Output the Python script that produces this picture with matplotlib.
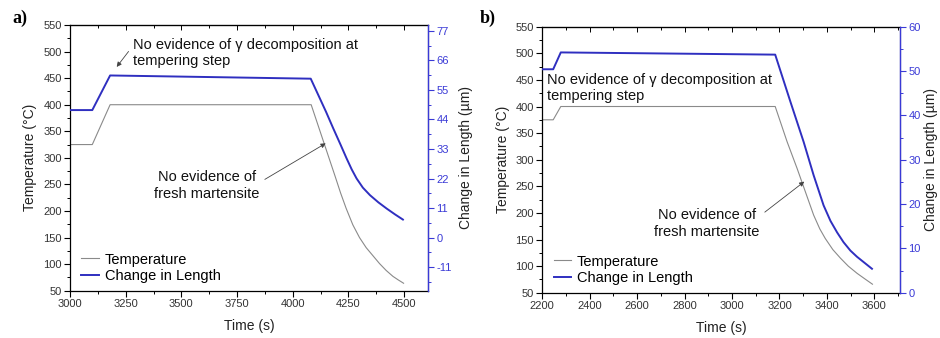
import numpy as np
import matplotlib.pyplot as plt
from matplotlib.ticker import MultipleLocator

plt.rcParams['font.family'] = ['Liberation Sans', 'DejaVu Sans']
plt.rcParams['axes.unicode_minus'] = False

# panel a) tempering at 400 C, start 325 C
time_a = [3000, 3100, 3180, 4083, 4150, 4190, 4215, 4240, 4270, 4300,
          4330, 4360, 4390, 4420, 4450, 4475, 4498]
temp_a = [325, 325, 400, 400, 316, 266, 234, 205, 174, 150,
          131, 116, 101, 88, 77, 70, 64]
ltime_a = [3000, 3100, 3180, 4081, 4115, 4150, 4182, 4215, 4242, 4265,
           4287, 4315, 4347, 4385, 4422, 4460, 4495]
length_a = [47.5, 47.5, 60.4, 59.2, 53.1, 46.8, 40.7, 34.6, 29.5, 25.4,
            22.0, 18.6, 15.8, 13.1, 10.8, 8.6, 6.7]

# panel b) tempering at 400 C, start 375 C
time_b = [2200, 2246, 2278, 3182, 3232, 3274, 3309, 3344, 3370, 3393,
          3425, 3457, 3490, 3527, 3560, 3592]
temp_b = [375, 375, 400, 400, 334, 284, 240, 196, 170, 152,
          131, 115, 100, 86.5, 76, 66]
ltime_b = [2200, 2246, 2278, 3182, 3246, 3302, 3344, 3386, 3415, 3443,
           3470, 3499, 3527, 3555, 3590]
length_b = [50.4, 50.4, 54.2, 53.7, 43.1, 34.0, 26.5, 19.7, 16.2, 13.6,
            11.4, 9.5, 8.1, 6.9, 5.4]

GRAY = '#8a8a8a'
BLUE = '#2f2fc0'
TBLUE = '#3a3ad6'
TXT = '#333333'

fig = plt.figure(figsize=(9.4, 3.38), dpi=100)


def draw_panel(rect, t, T, lt, L, xlim, xmaj, xmin, rlim, rmaj, rmin, lab_x, rlab_x):
    ax = fig.add_axes(rect)
    ax2 = ax.twinx()
    l1, = ax.plot(t, T, color=GRAY, lw=0.8, label='Temperature')
    l2, = ax2.plot(lt, L, color=BLUE, lw=1.4, label='Change in Length')
    ax.set_xlim(*xlim)
    ax.set_ylim(50, 550)
    ax2.set_ylim(*rlim)
    ax.xaxis.set_major_locator(MultipleLocator(xmaj))
    ax.xaxis.set_minor_locator(MultipleLocator(xmin))
    ax.yaxis.set_major_locator(MultipleLocator(50))
    ax.yaxis.set_minor_locator(MultipleLocator(25))
    ax2.yaxis.set_major_locator(MultipleLocator(rmaj))
    ax2.yaxis.set_minor_locator(MultipleLocator(rmin))
    ax.tick_params(which='major', direction='out', length=4, width=0.8,
                   labelsize=8, labelcolor=TXT, pad=2)
    ax.tick_params(which='minor', direction='out', length=2.2, width=0.7)
    ax2.tick_params(which='major', direction='out', length=4, width=0.8,
                    color=TBLUE, labelsize=8, labelcolor=TBLUE, pad=2)
    ax2.tick_params(which='minor', direction='out', length=2.2, width=0.7, color=TBLUE)
    for s in ['left', 'bottom', 'top']:
        ax2.spines[s].set_visible(False)
        ax.spines[s].set_linewidth(0.9)
    ax2.spines['right'].set_color(TBLUE)
    ax2.spines['right'].set_linewidth(1.0)
    top = ax.secondary_xaxis('top')
    top.xaxis.set_major_locator(MultipleLocator(xmaj))
    top.xaxis.set_minor_locator(MultipleLocator(xmin))
    top.tick_params(which='both', direction='in', labeltop=False, width=0.7)
    top.tick_params(which='major', length=3.5)
    top.tick_params(which='minor', length=2.2)
    ax.set_xlabel('Time (s)', fontsize=10, color='#222222')
    ax.xaxis.set_label_coords(0.5, -0.105)
    ax.set_ylabel('Temperature (°C)', fontsize=10, color='#222222')
    ax.yaxis.set_label_coords(lab_x, 0.5)
    ax2.set_ylabel('Change in Length (µm)', fontsize=10, color='#222222')
    ax2.yaxis.set_label_coords(rlab_x, 0.5)
    ax.legend(handles=[l1, l2], loc='lower left', bbox_to_anchor=(0.032, 0.03),
              frameon=False, fontsize=10.5, handlelength=1.2, handletextpad=0.4,
              labelspacing=0.15, borderpad=0, borderaxespad=0)
    return ax, ax2


ax_a, ax2_a = draw_panel([0.0745, 0.140, 0.3809, 0.786], time_a, temp_a, ltime_a, length_a,
                         (3000, 4608), 250, 125, (-19.8, 79.2), 11, 5.5, -0.092, 1.086)
ax_b, ax2_b = draw_panel([0.5769, 0.134, 0.3805, 0.787], time_b, temp_b, ltime_b, length_b,
                         (2200, 3708), 200, 100, (0, 60), 10, 5, -0.090, 1.067)

arrow = dict(arrowstyle='-|>', color='#444444', lw=0.6, mutation_scale=7)

ax_a.annotate('No evidence of γ decomposition at\ntempering step',
              xy=(3202, 467), xytext=(3283, 497), fontsize=10.5, ha='left', va='center',
              color='#111111', arrowprops=dict(arrow, relpos=(0, 0.75), shrinkA=2))
ax_a.annotate('No evidence of\nfresh martensite',
              xy=(4159, 330), xytext=(3615, 248), fontsize=10.5, ha='center', va='center',
              color='#111111', arrowprops=dict(arrow, relpos=(1, 0.6), shrinkA=2))

ax_b.text(2221, 435, 'No evidence of γ decomposition at\ntempering step',
          fontsize=10.5, ha='left', va='center', color='#111111')
ax_b.annotate('No evidence of\nfresh martensite',
              xy=(3314, 262), xytext=(2895, 180), fontsize=10.5, ha='center', va='center',
              color='#111111', arrowprops=dict(arrow, relpos=(1, 0.75), shrinkA=2))

fig.text(12 / 940, 1 - 18 / 338, 'a)', fontfamily='Liberation Serif', fontweight='bold',
         fontsize=13, ha='left', va='center')
fig.text(480 / 940, 1 - 18 / 338, 'b)', fontfamily='Liberation Serif', fontweight='bold',
         fontsize=13, ha='left', va='center')

fig.savefig('out.png', dpi=100)
